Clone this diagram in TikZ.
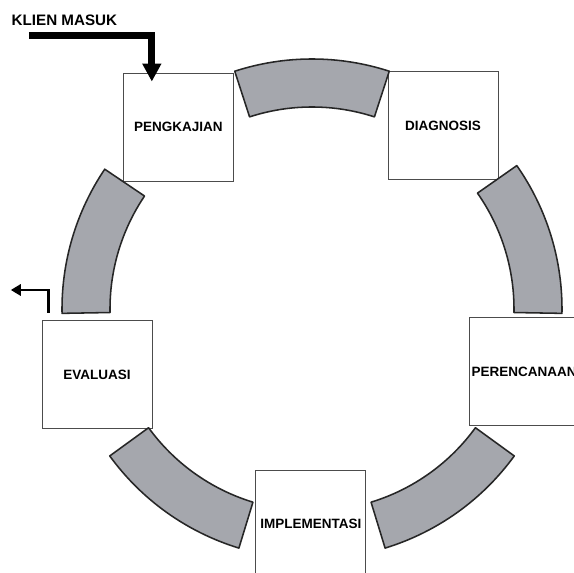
\documentclass[tikz,border=0pt]{standalone}
\usepackage{fontspec}
\setmainfont{Liberation Sans}
\usetikzlibrary{arrows.meta}
\usetikzlibrary{calc}
\usetikzlibrary{positioning}

\definecolor{bandgray}{RGB}{165,167,173}

\tikzset{
  stage/.style={draw=black!70, line width=0.6pt, fill=white,
    minimum width=2.75cm, minimum height=2.7cm, inner sep=0pt,
    font=\bfseries\fontsize{9.6}{11}\selectfont},
  band/.style={draw=black!85, line width=1.1pt, fill=bandgray, line join=round}
}

\begin{document}
\begin{tikzpicture}
        \clip (-7.8,-6.6) rectangle (6.55,7.725);
        \fill[white] (-7.8,-6.6) rectangle (6.55,7.725);

        \node[stage] (pengkajian) at (126.3:5.64) {PENGKAJIAN};
        \node[stage] (diagnosis) at (54.4:5.63) {DIAGNOSIS};
        \node[stage] (perencanaan) at (-16.5:5.53) {PERENCANAAN};
        \node[stage] (implementasi) at (-90.3:5.38) {IMPLEMENTASI};
        \node[stage] (evaluasi) at (197:5.62) {EVALUASI};

        % ring pieces between the stages
        \draw[band] (72:6.25) arc (72:108:6.25) -- (108:5.05) arc (108:72:5.05) -- cycle;
        \draw[band] (-1:6.25) arc (-1:35:6.25) -- (35:5.05) arc (35:-1:5.05) -- cycle;
        \draw[band] (146:6.25) arc (146:181:6.25) -- (181:5.05) arc (181:146:5.05) -- cycle;
        \draw[band] (216:6.25) arc (216:253:6.25) -- (253:5.05) arc (253:216:5.05) -- cycle;
        \draw[band] (287:6.25) arc (287:324:6.25) -- (324:5.05) arc (324:287:5.05) -- cycle;

        % client in
        \node[font=\bfseries\fontsize{10.8}{13}\selectfont] (masuk) at (-6.19,7.21) {KLIEN MASUK};
        \coordinate (masukstart) at (-7.075,6.84);
        \draw[line width=5pt, -{Triangle[length=0.45cm,width=0.45cm]}]
            (masukstart) -| ([xshift=0.72cm,yshift=-0.22cm]pengkajian.north west);

        % client out
        \coordinate (keluar) at (-7.53,0.475);
        \draw[line width=1.9pt, -{Triangle[length=0.25cm,width=0.28cm]}]
            ([xshift=0.17cm,yshift=0.19cm]evaluasi.north west) |- (keluar);
    \end{tikzpicture}
\end{document}
